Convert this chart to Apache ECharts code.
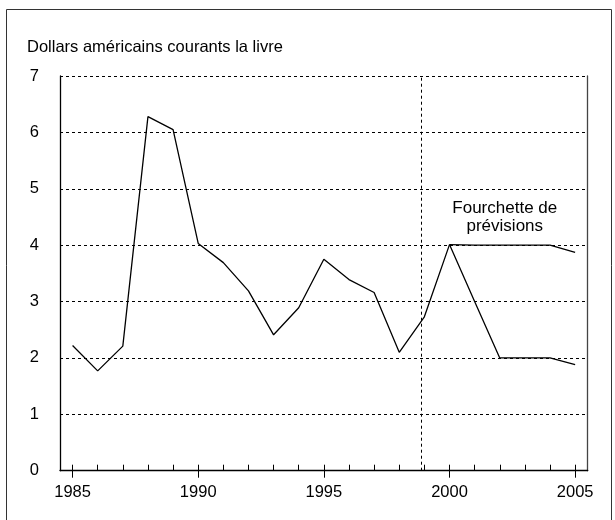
<!DOCTYPE html>
<html>
<head>
<meta charset="utf-8">
<script src="https://cdn.jsdelivr.net/npm/echarts@6/dist/echarts.min.js"></script>
<style>html,body{margin:0;padding:0;background:#fff}#c{width:615px;height:520px}</style>
</head>
<body>
<div id="c"></div>
<script>
var years = ['1985','1986','1987','1988','1989','1990','1991','1992','1993','1994','1995','1996','1997','1998','1999','2000','2001','2002','2003','2004','2005'];
var priceHistory = [2.22,1.77,2.21,6.28,6.05,4.03,3.69,3.19,2.41,2.89,3.75,3.39,3.16,2.10,2.73,4.01,null,null,null,null,null];
var upperRange = [null,null,null,null,null,null,null,null,null,null,null,null,null,null,null,4.01,4.0,4.0,4.0,4.0,3.87];
var lowerRange = [null,null,null,null,null,null,null,null,null,null,null,null,null,null,null,4.01,3.0,2.0,2.0,2.0,1.88];
var yTicks = [0,1,2,3,4,5,6,7];
var forecastStart = 1998.88;
var labelPos = [[2002.2, 4.49]];
var yAxisTitle = 'Dollars américains courants la livre';
var rangeLabel = 'Fourchette de\nprévisions';

var font = 'Liberation Sans, Arial, Helvetica, sans-serif';
var chart = echarts.init(document.getElementById('c'));
var gridCfg = {left: 60, right: 27.3, top: 76, bottom: 49.3};
chart.setOption({
  animation: false,
  backgroundColor: '#fff',
  grid: gridCfg,
  graphic: [
    {type: 'rect', shape: {x: 6.5, y: 9.5, width: 605, height: 530}, style: {fill: 'none', stroke: '#333', lineWidth: 1}, z: -1},
    {type: 'text', left: 27, top: 39, style: {text: yAxisTitle, font: '16.5px ' + font, fill: '#000'}}
  ],
  xAxis: [
    {type: 'category', data: years, boundaryGap: true,
     axisLine: {show: true, lineStyle: {color: '#000', width: 1.3}},
     axisTick: {show: true, inside: true, length: 6, alignWithLabel: true, interval: 0, lineStyle: {color: '#000', width: 1}},
     axisLabel: {interval: 4, margin: 13, color: '#000', fontSize: 16.5, fontFamily: font},
     splitLine: {show: false}},
    {type: 'value', min: 1984.5, max: 2005.5, show: false},
    {type: 'category', data: years, boundaryGap: true, position: 'bottom',
     axisLine: {show: false},
     axisTick: {show: true, inside: false, length: 7, alignWithLabel: true, interval: 4, lineStyle: {color: '#000', width: 1}},
     axisLabel: {show: false}, splitLine: {show: false}}
  ],
  yAxis: [
    {type: 'value', min: 0, max: 7, interval: 1,
     axisLine: {show: true, lineStyle: {color: '#000', width: 1.3}},
     axisTick: {show: false},
     axisLabel: {margin: 21, color: '#000', fontSize: 16.5, fontFamily: font,
       formatter: function (v) { return yTicks.indexOf(v) >= 0 ? String(v) : ''; }},
     splitLine: {show: true, lineStyle: {color: '#000', type: [3, 3], width: 1}}},
    {type: 'value', min: 0, max: 7, position: 'right',
     axisLine: {show: true, lineStyle: {color: '#444', width: 1.3}},
     axisTick: {show: false}, axisLabel: {show: false}, splitLine: {show: false}}
  ],
  series: [
    {type: 'line', xAxisIndex: 0, yAxisIndex: 0, data: priceHistory, symbol: 'none', connectNulls: false,
     lineStyle: {color: '#000', width: 1.3}},
    {type: 'line', xAxisIndex: 0, yAxisIndex: 0, data: upperRange, symbol: 'none',
     lineStyle: {color: '#000', width: 1.3}},
    {type: 'line', xAxisIndex: 0, yAxisIndex: 0, data: lowerRange, symbol: 'none',
     lineStyle: {color: '#000', width: 1.3}},
    {type: 'scatter', xAxisIndex: 1, yAxisIndex: 0, data: labelPos, symbolSize: 0, silent: true,
     itemStyle: {opacity: 1, color: '#000'},
     label: {show: true, position: 'inside', formatter: rangeLabel, color: '#000', fontSize: 17, fontFamily: font, lineHeight: 18, align: 'center', opacity: 1},
     markLine: {symbol: 'none', silent: true, label: {show: false},
       lineStyle: {color: '#000', type: [3, 3], width: 1},
       data: [{xAxis: forecastStart}]}}
  ]
});
</script>
</body>
</html>
